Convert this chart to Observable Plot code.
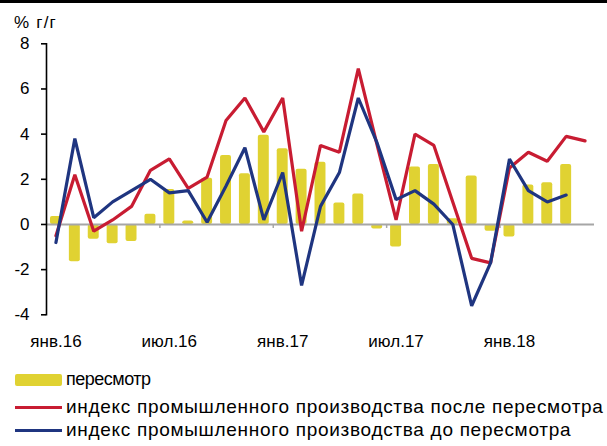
<!DOCTYPE html>
<html>
<head>
<meta charset="utf-8">
<script src="https://cdn.jsdelivr.net/npm/d3@7"></script>
<script src="https://cdn.jsdelivr.net/npm/@observablehq/plot@0.6"></script>
<style>
  html, body { margin: 0; padding: 0; background: #fff; }
  body { width: 607px; height: 446px; position: relative; overflow: hidden; font-family: "Liberation Sans", Arial, sans-serif; }
  #topbar { position: absolute; left: 0; top: 0; width: 607px; height: 3px; background: #000; }
  #chart { position: absolute; left: 0; top: 3px; }
  .unit { position: absolute; left: 14px; top: 13px; font-size: 17px; letter-spacing: 1.2px; color: #000; }
  .leg { position: absolute; left: 0; color: #000; white-space: nowrap; }
  .leg .sw { position: absolute; left: 15px; width: 47px; }
  .leg .tx { position: absolute; left: 66px; }
</style>
</head>
<body>
<div id="topbar"></div>
<div id="chart"></div>
<div class="unit">% г/г</div>
<div id="legend"></div>
<script>
const months = ["янв.16","фев.16","мар.16","апр.16","май.16","июн.16","июл.16","авг.16","сен.16","окт.16","ноя.16","дек.16",
  "янв.17","фев.17","мар.17","апр.17","май.17","июн.17","июл.17","авг.17","сен.17","окт.17","ноя.17","дек.17",
  "янв.18","фев.18","мар.18","апр.18","май.18"];
const tickLabels = ["янв.16","июл.16","янв.17","июл.17","янв.18"];
const yTicks = [-4, -2, 0, 2, 4, 6, 8];
// пересмотр (bars)
const revision = [0.35,-1.65,-0.65,-0.85,-0.75,0.45,1.55,0.15,2.05,3.05,2.25,3.95,3.35,2.45,2.75,0.95,1.35,-0.2,-1.0,2.55,2.65,0.25,2.15,-0.3,-0.55,1.75,1.85,2.65];
// индекс после пересмотра
const after = [-0.5,2.2,-0.3,0.2,0.8,2.4,2.9,1.6,2.1,4.6,5.6,4.1,5.6,-0.3,3.5,3.2,6.9,3.5,0.2,4.0,3.5,1.0,-1.5,-1.7,2.5,3.2,2.8,3.9,3.7];
// индекс до пересмотра
const before = [-0.8,3.8,0.3,1.0,1.5,2.0,1.4,1.5,0.1,1.7,3.4,0.2,2.3,-2.7,0.8,2.3,5.6,3.6,1.1,1.5,0.9,0.0,-3.6,-1.7,2.9,1.5,1.0,1.3];

const colors = { bar: "#e0d232", after: "#c81c32", before: "#1f3580" };

const barData = revision.map((v, i) => ({ m: months[i], v }));
const afterData = after.map((v, i) => ({ m: months[i], v }));
const beforeData = before.map((v, i) => ({ m: months[i], v }));
const boundaries = months.filter((m, i) => i > 0 && i % 6 === 0);

const W = 607, ML = 46, MR = 13;
const step = (W - ML - MR) / months.length;

const plot = Plot.plot({
  width: W,
  height: 356,
  marginLeft: ML,
  marginRight: MR,
  marginTop: 40.3,
  marginBottom: 44.7,
  style: { fontFamily: "Liberation Sans, Arial, sans-serif", fontSize: "17px", background: "transparent", color: "#000" },
  x: { type: "band", domain: months, paddingInner: 0.42, paddingOuter: 0.21, align: 0.5, round: false, label: null },
  y: { domain: [-4, 8], label: null },
  marks: [
    Plot.barY(barData, { x: "m", y: "v", fill: colors.bar, rx: 2 }),
    Plot.ruleY([0], { stroke: "#a6a6a6", strokeWidth: 2 }),
    Plot.ruleX(boundaries, { x: d => d, y1: 0, y2: 0, insetBottom: -4, dx: -step / 2, stroke: "#a6a6a6", strokeWidth: 1.5 }),
    Plot.lineY(afterData, { x: "m", y: "v", stroke: colors.after, strokeWidth: 3.2, strokeLinejoin: "miter" }),
    Plot.lineY(beforeData, { x: "m", y: "v", stroke: colors.before, strokeWidth: 3.2, strokeLinejoin: "miter" }),
    Plot.frame({ anchor: "left", stroke: "#000", strokeWidth: 1.6 }),
    Plot.axisY({ ticks: yTicks, tickSize: 5, tickPadding: 12, tickFormat: d => String(d), stroke: "#000", strokeWidth: 1.6, label: null }),
    Plot.axisX({ ticks: tickLabels, tickSize: 0, tickPadding: 20, label: null })
  ]
});
document.getElementById("chart").appendChild(plot);

const legendItems = [
  { label: "пересмотр", type: "bar", color: colors.bar, y: 380, size: 18, ls: -0.5 },
  { label: "индекс промышленного производства после пересмотра", type: "line", color: colors.after, y: 407, size: 19, ls: 0.7 },
  { label: "индекс промышленного производства до пересмотра", type: "line", color: colors.before, y: 430, size: 19, ls: 0.7 }
];
const legend = document.getElementById("legend");
for (const it of legendItems) {
  const row = document.createElement("div");
  row.className = "leg";
  row.style.top = it.y + "px";
  const sw = document.createElement("div");
  sw.className = "sw";
  sw.style.background = it.color;
  if (it.type === "bar") { sw.style.height = "12px"; sw.style.top = "-6px"; sw.style.borderRadius = "2px"; }
  else { sw.style.height = "3px"; sw.style.top = "-1.5px"; }
  const tx = document.createElement("div");
  tx.className = "tx";
  tx.textContent = it.label;
  tx.style.fontSize = it.size + "px";
  tx.style.letterSpacing = it.ls + "px";
  tx.style.lineHeight = "1";
  tx.style.top = (-it.size * 0.55) + "px";
  row.appendChild(sw); row.appendChild(tx);
  legend.appendChild(row);
}
</script>
</body>
</html>
